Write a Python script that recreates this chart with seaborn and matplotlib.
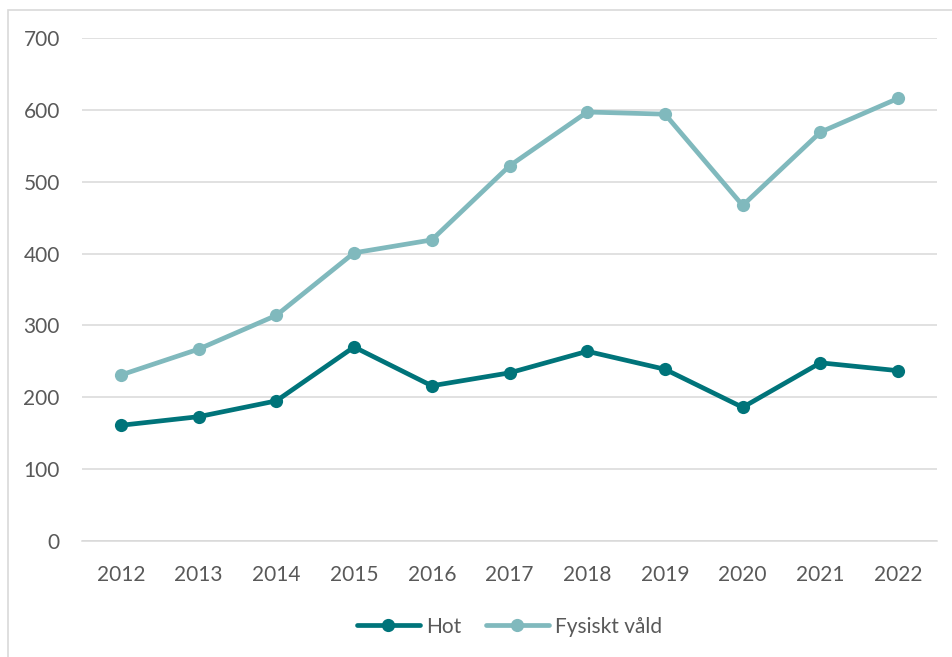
import matplotlib.pyplot as plt
import seaborn as sns
import pandas as pd
from matplotlib.patches import Rectangle

years = [2012, 2013, 2014, 2015, 2016, 2017, 2018, 2019, 2020, 2021, 2022]
hot = [161, 173, 195, 270, 216, 234, 264, 239, 186, 248, 237]
fysiskt_vald = [231, 267, 314, 401, 419, 522, 597, 594, 467, 569, 616]
series_names = ["Hot", "Fysiskt våld"]
y_ticks = [0, 100, 200, 300, 400, 500, 600, 700]

text_color = "#595959"
palette = {"Hot": "#00747A", "Fysiskt våld": "#80B9BD"}

sns.set_style("white")
plt.rcParams['font.family'] = ['Lato', 'DejaVu Sans']

df = pd.DataFrame({
    "year": [str(y) for y in years] * 2,
    "value": hot + fysiskt_vald,
    "serie": [series_names[0]] * len(years) + [series_names[1]] * len(years),
})

fig = plt.figure(figsize=(9.52, 6.57), dpi=100)
ax = fig.add_axes([82 / 952, 116 / 657, 855 / 952, 503 / 657])

# chart frame (cropped on the right and bottom)
fig.patches.append(Rectangle((8 / 952, -0.1), 1.2, 1 - 10 / 657 + 0.1,
                             transform=fig.transFigure, fill=False,
                             edgecolor="#D9D9D9", linewidth=1.2))

sns.lineplot(data=df, x="year", y="value", hue="serie", palette=palette,
             marker="o", markersize=9.5, markeredgewidth=0, linewidth=3.4,
             sort=False, ax=ax)

ax.set_ylim(0, 700)
ax.set_xlim(-0.5, len(years) - 0.5)
ax.set_yticks(y_ticks)
ax.yaxis.grid(True, color="#D9D9D9", linewidth=1.1)
ax.set_axisbelow(True)
for side in ["top", "right", "left"]:
    ax.spines[side].set_visible(False)
ax.spines["bottom"].set_color("#D9D9D9")
ax.spines["bottom"].set_linewidth(1.1)
ax.tick_params(axis="both", length=0, labelsize=15, labelcolor=text_color)
ax.tick_params(axis="y", pad=16)
ax.tick_params(axis="x", pad=17)
ax.set_xlabel("")
ax.set_ylabel("")

ax.legend(loc="center", bbox_to_anchor=(0.5, -0.17), ncol=2, frameon=False,
          fontsize=15, labelcolor=text_color, handlelength=3.0,
          handletextpad=0.3, columnspacing=1.2)

plt.savefig("out.png", dpi=100)
